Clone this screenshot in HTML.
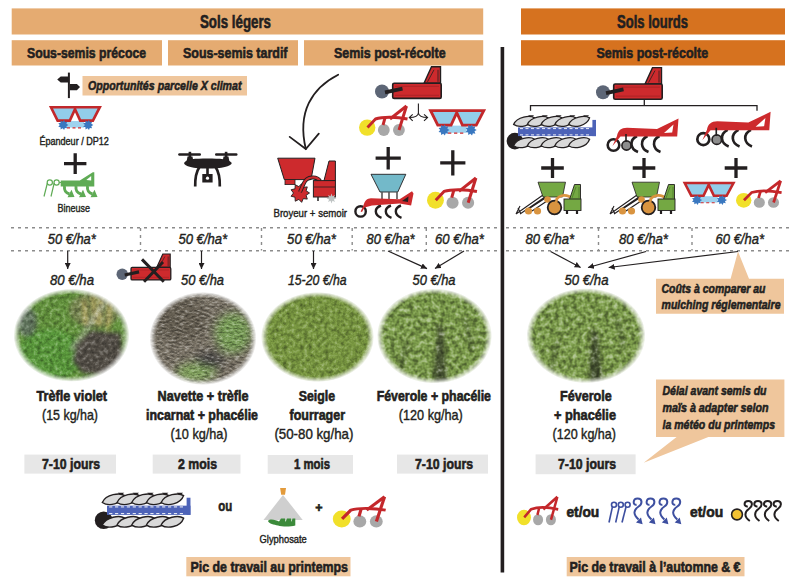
<!DOCTYPE html>
<html><head><meta charset="utf-8">
<style>
html,body{margin:0;padding:0;background:#fff;width:800px;height:587px;overflow:hidden}
svg{display:block}
text{font-family:"Liberation Sans",sans-serif;fill:#231f20;stroke:#231f20;stroke-width:0.4}
.b{font-weight:bold;stroke-width:0.6}
.bi{font-weight:bold;font-style:italic;stroke-width:0.55}
.i{font-style:italic}
</style></head><body>
<svg width="800" height="587" viewBox="0 0 800 587">
<rect width="800" height="587" fill="#fff"/>
<!-- header bars -->
<rect x="11.7" y="8.4" width="471.5" height="26.1" fill="#e5ab71"/>
<rect x="11.7" y="40.2" width="150.3" height="25.3" fill="#e5ab71"/>
<rect x="168" y="40.2" width="130" height="25.3" fill="#e5ab71"/>
<rect x="304" y="40.2" width="179.2" height="25.3" fill="#e5ab71"/>
<rect x="521" y="8.4" width="264" height="26.1" fill="#d6721f"/>
<rect x="521" y="40.2" width="264" height="25.3" fill="#d6721f"/>
<text class="b" x="200" y="27.7" font-size="17.5" textLength="71" lengthAdjust="spacingAndGlyphs">Sols légers</text>
<text class="b" x="617" y="27.7" font-size="17.5" textLength="71" lengthAdjust="spacingAndGlyphs">Sols lourds</text>
<text class="b" x="27" y="58" font-size="15.4" textLength="119" lengthAdjust="spacingAndGlyphs">Sous-semis précoce</text>
<text class="b" x="183" y="58" font-size="15.4" textLength="104.5" lengthAdjust="spacingAndGlyphs">Sous-semis tardif</text>
<text class="b" x="334" y="58" font-size="15.4" textLength="111.7" lengthAdjust="spacingAndGlyphs">Semis post-récolte</text>
<text class="b" x="596.5" y="58" font-size="15.4" textLength="111.7" lengthAdjust="spacingAndGlyphs">Semis post-récolte</text>

<!-- vertical divider -->
<rect x="500.6" y="47" width="3.6" height="525.5" fill="#231f20"/>

<!-- opportunités -->
<rect x="82.5" y="76" width="164.5" height="19.5" fill="#efc69c"/>
<text class="bi" x="88" y="89.5" font-size="13" textLength="153.5" lengthAdjust="spacingAndGlyphs">Opportunités parcelle X climat</text>

<text x="39.4" y="145.2" font-size="10.5" textLength="69.5" lengthAdjust="spacingAndGlyphs">Épandeur / DP12</text>
<text x="57.5" y="211.8" font-size="11" textLength="32.5" lengthAdjust="spacingAndGlyphs">Bineuse</text>
<text x="273.5" y="217" font-size="11" textLength="73.5" lengthAdjust="spacingAndGlyphs">Broyeur + semoir</text>

<!-- dashed cost rows -->
<g stroke="#8c8c8c" stroke-width="1.4" stroke-dasharray="3 4" fill="none">
<line x1="11" y1="227.8" x2="497" y2="227.8"/>
<line x1="11" y1="250.8" x2="497" y2="250.8"/>
<line x1="140.5" y1="228" x2="140.5" y2="250.5"/>
<line x1="261.5" y1="228" x2="261.5" y2="250.5"/>
<line x1="352.2" y1="228" x2="352.2" y2="250.5"/>
<line x1="426.3" y1="228" x2="426.3" y2="250.5"/>
<line x1="506" y1="227.8" x2="791.5" y2="227.8"/>
<line x1="506" y1="250.8" x2="791.5" y2="250.8"/>
<line x1="598.5" y1="228" x2="598.5" y2="250.5"/>
<line x1="692" y1="228" x2="692" y2="250.5"/>
</g>
<g class="costs">
<text class="i" x="47.8" y="244.3" font-size="14" textLength="48" lengthAdjust="spacingAndGlyphs">50 €/ha*</text>
<text class="i" x="178.4" y="244.3" font-size="14" textLength="48.8" lengthAdjust="spacingAndGlyphs">50 €/ha*</text>
<text class="i" x="287.1" y="244.3" font-size="14" textLength="48.8" lengthAdjust="spacingAndGlyphs">50 €/ha*</text>
<text class="i" x="366.6" y="244.3" font-size="14" textLength="48" lengthAdjust="spacingAndGlyphs">80 €/ha*</text>
<text class="i" x="435" y="244.3" font-size="14" textLength="48.8" lengthAdjust="spacingAndGlyphs">60 €/ha*</text>
<text class="i" x="525.5" y="244.3" font-size="14" textLength="48.5" lengthAdjust="spacingAndGlyphs">80 €/ha*</text>
<text class="i" x="619" y="244.3" font-size="14" textLength="49" lengthAdjust="spacingAndGlyphs">80 €/ha*</text>
<text class="i" x="715.6" y="244.3" font-size="14" textLength="48.4" lengthAdjust="spacingAndGlyphs">60 €/ha*</text>

<text class="i" x="50" y="285.2" font-size="14" textLength="44" lengthAdjust="spacingAndGlyphs">80 €/ha</text>
<text class="i" x="181" y="285.2" font-size="14" textLength="43" lengthAdjust="spacingAndGlyphs">50 €/ha</text>
<text class="i" x="288" y="285.2" font-size="14" textLength="58.5" lengthAdjust="spacingAndGlyphs">15-20 €/ha</text>
<text class="i" x="412.5" y="285.2" font-size="14" textLength="43" lengthAdjust="spacingAndGlyphs">50 €/ha</text>
<text class="i" x="564.5" y="285.2" font-size="14" textLength="44" lengthAdjust="spacingAndGlyphs">50 €/ha</text>
</g>

<!-- arrows -->
<defs><marker id="ah" viewBox="0 0 10 10" refX="10" refY="5" markerWidth="6" markerHeight="6" markerUnits="userSpaceOnUse" orient="auto"><path d="M0 0 L10 5 L0 10 Z" fill="#231f20"/></marker></defs>
<g stroke="#231f20" stroke-width="1.2" fill="none" marker-end="url(#ah)">
<line x1="67.7" y1="251" x2="67.7" y2="269"/>
<line x1="201.5" y1="251" x2="201.5" y2="269"/>
<line x1="313.5" y1="251" x2="313.5" y2="269"/>
<line x1="388" y1="251" x2="427" y2="268.6"/>
<line x1="464" y1="251" x2="435" y2="268.6"/>
<line x1="550.6" y1="251.5" x2="580.6" y2="267.5"/>
<line x1="646" y1="251.5" x2="588" y2="267.5"/>
<line x1="738" y1="251.5" x2="608.7" y2="267.5"/>
</g>

<!-- photo captions -->
<g class="captions">
<text class="b" x="36.4" y="401" font-size="14" textLength="70.6" lengthAdjust="spacingAndGlyphs">Trèfle violet</text>
<text x="42" y="420" font-size="14.2" textLength="56" lengthAdjust="spacingAndGlyphs">(15 kg/ha)</text>
<text class="b" x="157.6" y="401" font-size="14" textLength="91" lengthAdjust="spacingAndGlyphs">Navette + trèfle</text>
<text class="b" x="146" y="420" font-size="14" textLength="112" lengthAdjust="spacingAndGlyphs">incarnat + phacélie</text>
<text x="170.6" y="439" font-size="14.2" textLength="57" lengthAdjust="spacingAndGlyphs">(10 kg/ha)</text>
<text class="b" x="298.7" y="401" font-size="14" textLength="36.3" lengthAdjust="spacingAndGlyphs">Seigle</text>
<text class="b" x="289.6" y="420" font-size="14" textLength="55.4" lengthAdjust="spacingAndGlyphs">fourrager</text>
<text x="274.4" y="439" font-size="14.2" textLength="79" lengthAdjust="spacingAndGlyphs">(50-80 kg/ha)</text>
<text class="b" x="376.7" y="401" font-size="14" textLength="114.3" lengthAdjust="spacingAndGlyphs">Féverole + phacélie</text>
<text x="398.8" y="420" font-size="14.2" textLength="64" lengthAdjust="spacingAndGlyphs">(120 kg/ha)</text>
<text class="b" x="560" y="401" font-size="14" textLength="51.7" lengthAdjust="spacingAndGlyphs">Féverole</text>
<text class="b" x="554" y="420" font-size="14" textLength="62" lengthAdjust="spacingAndGlyphs">+ phacélie</text>
<text x="552.5" y="439" font-size="14.2" textLength="63.5" lengthAdjust="spacingAndGlyphs">(120 kg/ha)</text>
</g>

<!-- duration boxes -->
<rect x="24.4" y="454.6" width="91.6" height="19" fill="#e7e7e7"/>
<rect x="152.7" y="454.6" width="87.8" height="19" fill="#e7e7e7"/>
<rect x="267.7" y="455" width="85.3" height="18.8" fill="#e7e7e7"/>
<rect x="397" y="454.6" width="91" height="19" fill="#e7e7e7"/>
<rect x="535.6" y="454.4" width="100" height="19.8" fill="#e7e7e7"/>
<text class="b" x="42" y="469.4" font-size="15.2" textLength="58" lengthAdjust="spacingAndGlyphs">7-10 jours</text>
<text class="b" x="178" y="469.4" font-size="15.2" textLength="39" lengthAdjust="spacingAndGlyphs">2 mois</text>
<text class="b" x="294" y="469.4" font-size="15.2" textLength="36" lengthAdjust="spacingAndGlyphs">1 mois</text>
<text class="b" x="415" y="469.4" font-size="15.2" textLength="58" lengthAdjust="spacingAndGlyphs">7-10 jours</text>
<text class="b" x="558" y="469.4" font-size="15.2" textLength="58" lengthAdjust="spacingAndGlyphs">7-10 jours</text>

<!-- callouts -->
<path d="M656 278.7 H730.6 L738 251.5 L749 278.7 H784 V313.7 H656 Z" fill="#efc69c"/>
<text class="bi" x="661.5" y="292.8" font-size="12.5" textLength="104" lengthAdjust="spacingAndGlyphs">Coûts à comparer au</text>
<text class="bi" x="661.5" y="309.4" font-size="12.5" textLength="119" lengthAdjust="spacingAndGlyphs">mulching réglementaire</text>
<path d="M656 379.4 H784.4 V437.1 H708.4 L643.7 462.8 L676.6 437.1 H656 Z" fill="#efc69c"/>
<text class="bi" x="662.5" y="395.3" font-size="12.5" textLength="104" lengthAdjust="spacingAndGlyphs">Délai avant semis du</text>
<text class="bi" x="662.5" y="412" font-size="12.5" textLength="106" lengthAdjust="spacingAndGlyphs">maïs à adapter selon</text>
<text class="bi" x="662.5" y="429" font-size="12.5" textLength="112.5" lengthAdjust="spacingAndGlyphs">la météo du printemps</text>

<!-- bottom -->
<text class="b" x="218.2" y="510.7" font-size="15.5" textLength="14" lengthAdjust="spacingAndGlyphs">ou</text>
<text x="259.6" y="542.5" font-size="10.5" textLength="47.2" lengthAdjust="spacingAndGlyphs">Glyphosate</text>
<text class="b" x="315.2" y="511.5" font-size="12.5">+</text>
<text class="b" x="566.4" y="517.4" font-size="14" textLength="32.9" lengthAdjust="spacingAndGlyphs">et/ou</text>
<text class="b" x="690" y="517.4" font-size="14" textLength="33.2" lengthAdjust="spacingAndGlyphs">et/ou</text>
<rect x="186.3" y="557" width="164.2" height="19.3" fill="#efc69c"/>
<text class="b" x="190.5" y="572" font-size="14.5" textLength="157.5" lengthAdjust="spacingAndGlyphs">Pic de travail au printemps</text>
<rect x="566.7" y="557" width="177.8" height="19.3" fill="#efc69c"/>
<text class="b" x="569.5" y="572" font-size="14.5" textLength="171" lengthAdjust="spacingAndGlyphs">Pic de travail à l’automne &amp; €</text>

<!-- PHOTOS -->
<defs>
<radialGradient id="fe" cx="0.5" cy="0.5" r="0.5">
<stop offset="0.88" stop-color="#fff"/><stop offset="1" stop-color="#000"/>
</radialGradient>
<filter id="tex" x="0" y="0" width="1" height="1" color-interpolation-filters="sRGB">
<feTurbulence type="fractalNoise" baseFrequency="0.24" numOctaves="3" seed="2" result="n"/>
<feColorMatrix in="n" type="matrix" values="0.6 0 0 0 0.17  0.6 0 0 0 0.17  0.6 0 0 0 0.17  0 0 0 0 1" result="g0"/>
<feComponentTransfer in="g0" result="g"><feFuncR type="table" tableValues="0.28 0.32 0.5 0.7 0.74"/><feFuncG type="table" tableValues="0.28 0.32 0.5 0.7 0.74"/><feFuncB type="table" tableValues="0.28 0.32 0.5 0.7 0.74"/></feComponentTransfer>
<feBlend in="SourceGraphic" in2="g" mode="overlay" result="m"/>
<feComposite in="m" in2="SourceAlpha" operator="in"/>
</filter>
<filter id="tex2" x="0" y="0" width="1" height="1" color-interpolation-filters="sRGB">
<feTurbulence type="fractalNoise" baseFrequency="0.2 0.5" numOctaves="3" seed="7" result="n"/>
<feColorMatrix in="n" type="matrix" values="0.85 0 0 0 0.05  0.85 0 0 0 0.05  0.85 0 0 0 0.05  0 0 0 0 1" result="g0"/>
<feComponentTransfer in="g0" result="g"><feFuncR type="table" tableValues="0.28 0.32 0.5 0.7 0.74"/><feFuncG type="table" tableValues="0.28 0.32 0.5 0.7 0.74"/><feFuncB type="table" tableValues="0.28 0.32 0.5 0.7 0.74"/></feComponentTransfer>
<feBlend in="SourceGraphic" in2="g" mode="overlay" result="m"/>
<feComposite in="m" in2="SourceAlpha" operator="in"/>
</filter>
<filter id="tex3" x="0" y="0" width="1" height="1" color-interpolation-filters="sRGB">
<feTurbulence type="fractalNoise" baseFrequency="0.22" numOctaves="2" seed="5" result="n"/>
<feColorMatrix in="n" type="matrix" values="0.9 0 0 0 0.02  0.9 0 0 0 0.02  0.9 0 0 0 0.02  0 0 0 0 1" result="g0"/>
<feComponentTransfer in="g0" result="g"><feFuncR type="table" tableValues="0.28 0.32 0.5 0.7 0.74"/><feFuncG type="table" tableValues="0.28 0.32 0.5 0.7 0.74"/><feFuncB type="table" tableValues="0.28 0.32 0.5 0.7 0.74"/></feComponentTransfer>
<feBlend in="SourceGraphic" in2="g" mode="overlay" result="m"/>
<feComposite in="m" in2="SourceAlpha" operator="in"/>
</filter>
<filter id="bl4"><feGaussianBlur stdDeviation="5"/></filter>
<filter id="bl3" x="-50%" y="-50%" width="200%" height="200%"><feGaussianBlur stdDeviation="4"/></filter>
<filter id="bl2"><feGaussianBlur stdDeviation="2"/></filter>
<mask id="m1" maskContentUnits="userSpaceOnUse"><ellipse cx="71.5" cy="335.2" rx="58" ry="46.5" fill="url(#fe)"/></mask>
<mask id="m2" maskContentUnits="userSpaceOnUse"><ellipse cx="203" cy="338.5" rx="53.5" ry="46.5" fill="url(#fe)"/></mask>
<mask id="m3" maskContentUnits="userSpaceOnUse"><ellipse cx="317.5" cy="337" rx="56.5" ry="45" fill="url(#fe)"/></mask>
<mask id="m4" maskContentUnits="userSpaceOnUse"><ellipse cx="434.5" cy="336" rx="57.5" ry="47.5" fill="url(#fe)"/></mask>
<mask id="m5" maskContentUnits="userSpaceOnUse"><ellipse cx="586" cy="335.7" rx="59.5" ry="47.5" fill="url(#fe)"/></mask>
</defs>
<g mask="url(#m1)"><g filter="url(#tex)">
<rect x="10" y="285" width="125" height="100" fill="#66963f"/>
<g filter="url(#bl2)">
<ellipse cx="95" cy="310" rx="26" ry="18" fill="#7a8a52"/>
<path d="M84 300 L86 325 M93 296 L95 322 M101 298 L99 326 M110 302 L108 330" stroke="#d4bd6e" stroke-width="2.4"/>
<ellipse cx="50" cy="355" rx="32" ry="26" fill="#5c9c3c"/>
<ellipse cx="27" cy="322" rx="10" ry="15" fill="#64785f"/>
<path d="M76 345 L90 330 L121 333 L123 360 L106 376 L82 373 L72 361 Z" fill="#56514a"/>
<path d="M105 302 L71.3 349.7" stroke="#b9bda8" stroke-width="2.2"/>
</g></g></g>
<g mask="url(#m2)"><g filter="url(#tex2)">
<rect x="145" y="288" width="120" height="100" fill="#7c7568"/>
<g filter="url(#bl3)">
<ellipse cx="233" cy="333" rx="18" ry="20" fill="#7aa058"/>
<ellipse cx="196" cy="372" rx="20" ry="9" fill="#86a860"/>
<ellipse cx="180" cy="320" rx="28" ry="22" fill="#6a6356"/>
<ellipse cx="210" cy="360" rx="14" ry="8" fill="#4d4c4a"/>
</g></g></g>
<g mask="url(#m3)"><g filter="url(#tex)">
<rect x="258" y="288" width="120" height="100" fill="#7b9a42"/>
</g></g>
<g mask="url(#m4)"><g filter="url(#tex3)">
<rect x="374" y="285" width="122" height="100" fill="#80a04d"/>
<g filter="url(#bl2)" opacity="0.65">
<path d="M436 325 C440 340, 432 360, 434 384 L448 384 C444 360, 446 340, 442 325 Z" fill="#33352c"/>
<path d="M463 318 L470 350 L474 350 L467 318 Z M405 340 L398 372 L402 372 L409 340 Z" fill="#3c4630" opacity="0.7"/>
</g>
</g></g>
<g mask="url(#m5)"><g filter="url(#tex3)">
<rect x="524" y="285" width="124" height="100" fill="#80a04d"/>
<g filter="url(#bl2)" opacity="0.65">
<path d="M590 330 C594 345, 587 362, 590 384 L603 384 C600 362, 601 345, 596 330 Z" fill="#33352c"/>
<path d="M615 318 L622 350 L626 350 L619 318 Z M556 340 L549 372 L553 372 L560 340 Z" fill="#3c4630" opacity="0.7"/>
</g>
</g></g>
<!-- ICONS -->

<!-- signpost -->
<g fill="#231f20">
<rect x="67.9" y="72.6" width="2" height="25.5"/>
<path d="M57.2 79.4 L60.7 76.4 H68 V82.5 H60.7 Z"/>
<path d="M69.9 83.9 H76.9 L80 87.1 L76.9 90.3 H69.9 Z"/>
</g>
<!-- curved arrow -->
<g stroke="#231f20" stroke-width="1.8" fill="none" stroke-linecap="round">
<path d="M338.2 74.7 C312 88, 297 112, 305.8 149"/>
<path d="M289.7 136.9 L305.8 149 L318.8 133.7"/>
</g>
<!-- split arrow -->
<g stroke="#231f20" stroke-width="1.1" fill="none">
<path d="M418.4 103.6 V113 C418 116.5, 414 117.5, 409.5 117.5 M418.4 113 C419 116.5, 423 117.5, 427.5 117.5"/>
<path d="M412.7 114.3 L409.3 117.5 L412.7 120.9 M424 114.3 L427.6 117.5 L424 120.9"/>
</g>
<!-- bracket right -->
<g stroke="#231f20" stroke-width="1.3" fill="none">
<path d="M530.5 110.8 V105.6 H757 V110.8 M644.3 99 V105.6"/>
</g>

<!-- ICONSET --><defs>
<g id="spreader">
<rect x="15.5" y="14.8" width="18.5" height="6.6" fill="#9fd2ee"/>
<path d="M17 21.6 H33" stroke="#cd2a2d" stroke-width="1.2" stroke-dasharray="3 2.5"/>
<path d="M1 1 H49.8 L42.9 14.4 H30.2 L25 3 L19.8 14.4 H7.6 Z" fill="#92cdea" stroke="#c2282b" stroke-width="2.6" stroke-linejoin="miter"/>
<path d="M18.40,18.80 L16.39,19.96 L17.18,22.14 L14.90,21.74 L14.10,23.92 L12.61,22.15 L10.60,23.30 L10.60,20.99 L8.31,20.58 L9.80,18.80 L8.31,17.02 L10.60,16.61 L10.60,14.30 L12.61,15.45 L14.10,13.68 L14.90,15.86 L17.18,15.46 L16.39,17.64Z" fill="#3a78c0"/>
<path d="M43.30,18.80 L41.29,19.96 L42.08,22.14 L39.80,21.74 L39.00,23.92 L37.51,22.15 L35.50,23.30 L35.50,20.99 L33.21,20.58 L34.70,18.80 L33.21,17.02 L35.50,16.61 L35.50,14.30 L37.51,15.45 L39.00,13.68 L39.80,15.86 L42.08,15.46 L41.29,17.64Z" fill="#3a78c0"/>
</g>
<g id="harrow">
<circle cx="8.2" cy="22.6" r="8.2" fill="#f1e02a"/>
<circle cx="24.8" cy="25" r="5.9" fill="#a8a8a8"/>
<circle cx="39.9" cy="25" r="5.9" fill="#a8a8a8"/>
<g stroke="#c4272b" stroke-width="2.9" fill="none" stroke-linecap="butt" stroke-linejoin="round">
<path d="M8.5 22.5 L16.5 14 C 24 11.5, 38 12, 48.5 14"/>
<path d="M31 14 L47.5 1"/>
<path d="M47.5 1 L40 25"/>
<path d="M26 13 L24 20"/>
</g>
</g>
<g id="broyeur">
<circle cx="7" cy="24.7" r="7" fill="#5d6676"/>
<path d="M49 16.4 L56.5 0 H65.5 V16.4 Z" fill="#cd2a2d" stroke="#231f20" stroke-width="1.4"/>
<path d="M59 3 L52.5 15 M63 3 V15" stroke="#231f20" stroke-width="0.8"/>
<rect x="17.7" y="16.4" width="48.5" height="15.2" rx="1.5" fill="#cd2a2d" stroke="#231f20" stroke-width="1.6"/>
<path d="M20 19.5 H64 M20 28.5 H64" stroke="#8a1d1f" stroke-width="0.5"/>
<path d="M10 25.5 L27.5 21.8" stroke="#231f20" stroke-width="3.8"/>
</g>
<g id="plough">
<circle cx="9.9" cy="28.1" r="8.3" fill="#231f20"/>
<path d="M23.1 2.2 H29.1 L26.1 5 Z" fill="#231f20"/><path d="M36.85 2.2 H42.85 L39.85 5 Z" fill="#231f20"/><path d="M50.6 2.2 H56.6 L53.6 5 Z" fill="#231f20"/><path d="M64.35 2.2 H70.35 L67.35 5 Z" fill="#231f20"/><path d="M78.1 2.2 H84.1 L81.1 5 Z" fill="#231f20"/>
<path d="M8.600000000000001 11.4 C12.100000000000001 3.4000000000000004, 25.1 1.9000000000000004, 29.6 4.9 C26.6 13.4, 14.100000000000001 15.2, 8.600000000000001 11.4 Z" fill="#d9d9d9" stroke="#231f20" stroke-width="1.3"/><path d="M22.35 11.4 C25.85 3.4000000000000004, 38.85 1.9000000000000004, 43.35 4.9 C40.35 13.4, 27.85 15.2, 22.35 11.4 Z" fill="#d9d9d9" stroke="#231f20" stroke-width="1.3"/><path d="M36.1 11.4 C39.6 3.4000000000000004, 52.6 1.9000000000000004, 57.1 4.9 C54.1 13.4, 41.6 15.2, 36.1 11.4 Z" fill="#d9d9d9" stroke="#231f20" stroke-width="1.3"/><path d="M49.85 11.4 C53.35 3.4000000000000004, 66.35 1.9000000000000004, 70.85 4.9 C67.85 13.4, 55.35 15.2, 49.85 11.4 Z" fill="#d9d9d9" stroke="#231f20" stroke-width="1.3"/><path d="M63.599999999999994 11.4 C67.1 3.4000000000000004, 80.1 1.9000000000000004, 84.6 4.9 C81.6 13.4, 69.1 15.2, 63.599999999999994 11.4 Z" fill="#d9d9d9" stroke="#231f20" stroke-width="1.3"/>
<path d="M8.600000000000001 32.7 C12.100000000000001 24.7, 25.1 23.2, 29.6 26.2 C26.6 34.7, 14.100000000000001 36.5, 8.600000000000001 32.7 Z" fill="#d9d9d9" stroke="#231f20" stroke-width="1.3"/><path d="M22.35 32.7 C25.85 24.7, 38.85 23.2, 43.35 26.2 C40.35 34.7, 27.85 36.5, 22.35 32.7 Z" fill="#d9d9d9" stroke="#231f20" stroke-width="1.3"/><path d="M36.1 32.7 C39.6 24.7, 52.6 23.2, 57.1 26.2 C54.1 34.7, 41.6 36.5, 36.1 32.7 Z" fill="#d9d9d9" stroke="#231f20" stroke-width="1.3"/><path d="M49.85 32.7 C53.35 24.7, 66.35 23.2, 70.85 26.2 C67.85 34.7, 55.35 36.5, 49.85 32.7 Z" fill="#d9d9d9" stroke="#231f20" stroke-width="1.3"/><path d="M63.599999999999994 32.7 C67.1 24.7, 80.1 23.2, 84.6 26.2 C81.6 34.7, 69.1 36.5, 63.599999999999994 32.7 Z" fill="#d9d9d9" stroke="#231f20" stroke-width="1.3"/>
<rect x="13" y="14.4" width="78" height="8.7" fill="#4d63b8"/>
<rect x="87.4" y="6.9" width="3.6" height="16.2" fill="#4d63b8"/>
<path d="M15 15.6 H86 M15 21.9 H86" stroke="#fff" stroke-width="0.9" stroke-dasharray="3 2.5"/>
</g>
<g id="cult">
<circle cx="9.5" cy="33" r="5.8" fill="none" stroke="#231f20" stroke-width="2.6"/>
<circle cx="22.5" cy="33.5" r="4.6" fill="#8d8d8d" stroke="#231f20" stroke-width="1.6"/>
<path d="M33 24 C25 28, 26 37, 34 40 M43.5 24 C35.5 28, 36.5 37, 44.5 40 M55.5 24 C47.5 28, 48.5 37, 56.5 40" stroke="#231f20" stroke-width="2.6" fill="none"/>
<path d="M8.5 34 L13 24 C14 18.5, 17 16, 23 15.8 L53 17 L74.5 6.5 L73.2 24.5 L16.5 24.5 Z" fill="#cd2a2d"/>
<path d="M60 21 L69.5 12.5 L68.2 20.5 Z" fill="#fff"/>
<path d="M22 22 V30" stroke="#231f20" stroke-width="1.6"/>
</g>
<g id="gseed">
<path d="M6 39 L33 20 M10 39 L35 22 M17 35 L37 22 M22 36 L40 24 M8 33 L11 39 M6 39 L10 31" stroke="#231f20" stroke-width="1.1" fill="none"/>
<path d="M28 7.2 H55.5 L52.5 22 H33 Z" fill="#74a843" stroke="#231f20" stroke-width="0.8"/>
<path d="M46 25 C50 19, 58 19, 62 24" stroke="#d99440" stroke-width="2.6" fill="none"/>
<circle cx="37.5" cy="24.5" r="3.3" fill="#d99440"/>
<circle cx="44.5" cy="32.5" r="6.8" fill="#d99440" stroke="#231f20" stroke-width="1.8"/>
<path d="M45 31 L47 24" stroke="#d99440" stroke-width="2.5"/>
<circle cx="18.5" cy="36" r="3.6" fill="#d99440"/>
<circle cx="27.5" cy="36" r="3.6" fill="#d99440"/>
<path d="M64.5 9.5 H70.5 V24.5 H59.5 Z" fill="#74a843" stroke="#231f20" stroke-width="0.9"/><path d="M66 12 L62 23 M69 12 V23" stroke="#4d7a2c" stroke-width="0.8"/>
<rect x="54" y="24" width="17" height="11.5" fill="#74a843" stroke="#231f20" stroke-width="0.9"/>
<path d="M57 35.5 V39 M67 35.5 V39" stroke="#231f20" stroke-width="2.2"/>
</g>
<g id="bseed">
<path d="M21 4.3 H55.8 L47.8 22 H30 Z" fill="#73b9c9" stroke="#231f20" stroke-width="0.9"/>
<path d="M32 22 V29 M39 22 V29 M47 22 V29" stroke="#555" stroke-width="1.6"/>
<circle cx="10.6" cy="41.4" r="5.2" fill="none" stroke="#231f20" stroke-width="2.4"/>
<path d="M31 35.5 C24 38, 24 45, 31.5 47.8 M41 35.5 C34 38, 34 45, 41.5 47.8 M51 35.5 C44 38, 44 45, 51.5 47.8" stroke="#231f20" stroke-width="2.4" fill="none"/>
<path d="M10.6 41.6 L13.3 36 C15 30, 17 28.5, 21 28.3 L49.6 29.2 L62 21.3 L63.5 23.5 L61.1 35.4 L49.6 33.5 L22 35.4 L14.5 37.5 L12 42 Z" fill="#cd2a2d"/>
<path d="M52 31 L58.5 26.5 L58 32 Z" fill="#231f20"/>
</g>
<g id="bsem">
<path d="M7.7 8.2 H45 L41 29.6 H14.3 Z" fill="#cd2a2d" stroke="#231f20" stroke-width="1"/>
<rect x="15" y="29.6" width="10" height="5" fill="#cd2a2d" stroke="#231f20" stroke-width="0.8"/>
<path d="M39.50,43.00 L36.11,45.22 L37.28,49.11 L33.25,48.63 L31.65,52.36 L28.87,49.40 L25.25,51.23 L25.02,47.18 L21.07,46.25 L23.50,43.00 L21.07,39.75 L25.02,38.82 L25.25,34.77 L28.87,36.60 L31.65,33.64 L33.25,37.37 L37.28,36.89 L36.11,40.78Z" fill="#cd2a2d" stroke="#231f20" stroke-width="0.9"/>
<path d="M30 42 L34 33 C37 26, 47 26, 50 31" stroke="#231f20" stroke-width="4" fill="none"/>
<path d="M30 42 L34 33 C37 26, 47 26, 50 31" stroke="#cd2a2d" stroke-width="2.2" fill="none"/>
<path d="M54 30.6 L59 11 H65.4 V30.6 Z" fill="#cd2a2d" stroke="#231f20" stroke-width="1"/>
<rect x="43.4" y="30.6" width="22" height="16.4" fill="#cd2a2d" stroke="#231f20" stroke-width="1"/>
<path d="M44 37 H65" stroke="#231f20" stroke-width="0.8"/>
<path d="M48 47 V51" stroke="#231f20" stroke-width="1.5"/>
<path d="M66.50,48.50 L63.81,49.46 L65.04,52.04 L62.46,50.81 L61.50,53.50 L60.54,50.81 L57.96,52.04 L59.19,49.46 L56.50,48.50 L59.19,47.54 L57.96,44.96 L60.54,46.19 L61.50,43.50 L62.46,46.19 L65.04,44.96 L63.81,47.54Z" fill="#bfc4c4"/>
</g>
</defs>
<use href="#spreader" transform="translate(50 106.2)"/>
<use href="#spreader" transform="translate(429.5 109.5) scale(1.09)"/>
<use href="#spreader" transform="translate(683.7 182) scale(1.0 0.96)"/>
<use href="#harrow" transform="translate(359 105)"/>
<use href="#harrow" transform="translate(427 177) scale(1.03)"/>
<use href="#harrow" transform="translate(517 496) scale(0.85 0.95)"/>
<use href="#harrow" transform="translate(736 180) scale(0.94 0.9)"/>
<use href="#harrow" transform="translate(332.8 495.7) scale(1.09 1.03)"/>
<use href="#broyeur" transform="translate(596 67.6)"/>
<use href="#broyeur" transform="translate(375 66.8)"/>
<use href="#broyeur" transform="translate(116.5 254) scale(0.82)"/>
<path d="M142 259.4 L163.8 281.7 M144 281.7 L163 262" stroke="#231f20" stroke-width="3"/>
<use href="#plough" transform="translate(505 113)"/>
<use href="#plough" transform="translate(93.1 490.4) scale(1.07 1.06)"/>
<use href="#cult" transform="translate(604 112)"/>
<use href="#cult" transform="translate(693.5 105) scale(1.035)"/>
<use href="#gseed" transform="translate(510 175)"/>
<use href="#gseed" transform="translate(604 175)"/>
<use href="#bseed" transform="translate(350 170)"/>
<use href="#bsem" transform="translate(270 150)"/>
<path d="M64.0 163.6 H86.4 M75.2 153.2 V174.0" stroke="#231f20" stroke-width="3.3"/><path d="M375.59999999999997 158.2 H400.8 M388.2 147.0 V169.39999999999998" stroke="#231f20" stroke-width="3.3"/><path d="M440.2 162.8 H465.40000000000003 M452.8 150.20000000000002 V175.4" stroke="#231f20" stroke-width="3.3"/><path d="M541.2 168 H563.8 M552.5 158 V178" stroke="#231f20" stroke-width="3.3"/><path d="M632.7 168 H655.3 M644 158 V178" stroke="#231f20" stroke-width="3.3"/><path d="M724.7 168 H747.3 M736 158 V178" stroke="#231f20" stroke-width="3.3"/><g fill="#231f20">
<rect x="178.2" y="153.3" width="22.8" height="2.4" rx="1.2"/>
<rect x="215" y="153.3" width="22.5" height="2.4" rx="1.2"/>
<rect x="188.6" y="151.8" width="2.6" height="9"/>
<rect x="224.8" y="151.8" width="2.6" height="9"/>
<path d="M186.5 162 L187.5 156.5 H192.5 L193.5 162 Z"/>
<path d="M222.5 162 L223.5 156.5 H228.5 L229.5 162 Z"/>
<path d="M184 163 C186 159, 195 158.5, 207.5 158.5 C220 158.5, 229 159, 231.8 163 C231 166.5, 222 168.5, 207.5 168.5 C193 168.5, 184.5 166.5, 184 163 Z"/>
<rect x="206.2" y="168" width="2.6" height="6.5"/>
<rect x="202.3" y="174" width="10.3" height="8.5"/>
</g>
<circle cx="207.5" cy="178.2" r="1.6" fill="#fff"/>
<path d="M199.5 167 C196 172, 195 178, 195.2 186.5 M215.5 167 C219 172, 220 178, 219.8 186.5" stroke="#231f20" stroke-width="2.7" fill="none"/>
<g>
<path d="M60.7 180.4 H79.8 L92.8 172.3 H94.3 V186.5 H60.7 Z" fill="#5fab55"/>
<path d="M86.3 180 L91.2 176 V180.5 Z" fill="#fff"/>
<g stroke="#5fab55" stroke-width="1.2" fill="none">
<circle cx="49.8" cy="182.5" r="2.6"/><circle cx="56.6" cy="182.5" r="2.6"/>
<path d="M47.4 183 L44 196.5 M54.2 183 L51 196.5 M59.2 182.5 H61"/>
</g>
<g stroke="#5fab55" stroke-width="2.9" fill="none">
<path d="M64.5 186 C64 190, 66 193, 69.5 194"/>
<path d="M76 186 C75.5 190, 77.5 193, 81 194"/>
<path d="M87.5 186 C87 190, 89 193, 92.5 194"/>
</g>
<path d="M67.5 197.2 L74.5 197 L71.5 189.8 Z M79 197.2 L86 197 L83 189.8 Z M90.5 197.2 L97.5 197 L94.5 189.8 Z" fill="#5fab55"/>
</g>
<path d="M280.1 488 H286 L285 494.8 H281.2 Z" fill="#e39b3b"/>
<path d="M283 495 L302.7 519.9 H263.5 Z" fill="#cfcfcf"/>
<path d="M268 521 C270 518, 276 520, 279 521.5 L281 518.5 H285 L285.5 522 L287 518.5 H291 L291.5 522 L292.5 518.5 H295.3 V525.5 C290 527, 282 526.8, 278 525.5 C274 524.5, 269 524, 268 521 Z" fill="#3b8a3a"/>
<g stroke="#3d4fa0" stroke-width="1.6" fill="none"><path d="M609 522.5 L612.4 507"/><circle cx="614" cy="504.8" r="2.5"/><path d="M615.7 522.5 L619.1999999999999 507"/><circle cx="620.8" cy="504.8" r="2.5"/><path d="M622 522.5 L626.0 507"/><circle cx="627.6" cy="504.8" r="2.5"/></g><g stroke="#3d4fa0" stroke-width="2" fill="none"><path d="M636.6 504.8 C632.6 505.5, 632.6 498.5, 637.6 498.5 C642.6 498.5, 642.6 504, 638.6 506.5 C633.6 510, 632.6 514, 638.6 519.5"/><path d="M649.5 504.8 C645.5 505.5, 645.5 498.5, 650.5 498.5 C655.5 498.5, 655.5 504, 651.5 506.5 C646.5 510, 645.5 514, 651.5 519.5"/><path d="M662.4 504.8 C658.4 505.5, 658.4 498.5, 663.4 498.5 C668.4 498.5, 668.4 504, 664.4 506.5 C659.4 510, 658.4 514, 664.4 519.5"/><path d="M675.3 504.8 C671.3 505.5, 671.3 498.5, 676.3 498.5 C681.3 498.5, 681.3 504, 677.3 506.5 C672.3 510, 671.3 514, 677.3 519.5"/></g><path d="M636.0 522.4 L642.6 524.2 L641.0 517.6 Z" fill="#3d4fa0"/><path d="M648.9 522.4 L655.5 524.2 L653.9 517.6 Z" fill="#3d4fa0"/><path d="M661.8 522.4 L668.4 524.2 L666.8 517.6 Z" fill="#3d4fa0"/><path d="M674.6999999999999 522.4 L681.3 524.2 L679.6999999999999 517.6 Z" fill="#3d4fa0"/><circle cx="737" cy="514.5" r="5.4" fill="#f2c233" stroke="#231f20" stroke-width="1.6"/><g stroke="#231f20" stroke-width="2" fill="none"><path d="M747.8 506.5 C743.5 507, 743.3 501, 748.3 501 C752.9 501, 752.9 506, 749.3 508.5 C744.3 512, 743.8 517, 749.8 521"/><path d="M757.5 506.5 C753.2 507, 753 501, 758 501 C762.6 501, 762.6 506, 759 508.5 C754 512, 753.5 517, 759.5 521"/><path d="M767.2 506.5 C762.9000000000001 507, 762.7 501, 767.7 501 C772.3000000000001 501, 772.3000000000001 506, 768.7 508.5 C763.7 512, 763.2 517, 769.2 521"/><path d="M776.8 506.5 C772.5 507, 772.3 501, 777.3 501 C781.9 501, 781.9 506, 778.3 508.5 C773.3 512, 772.8 517, 778.8 521"/></g><!-- /ICONSET -->
</svg>
</body></html>
